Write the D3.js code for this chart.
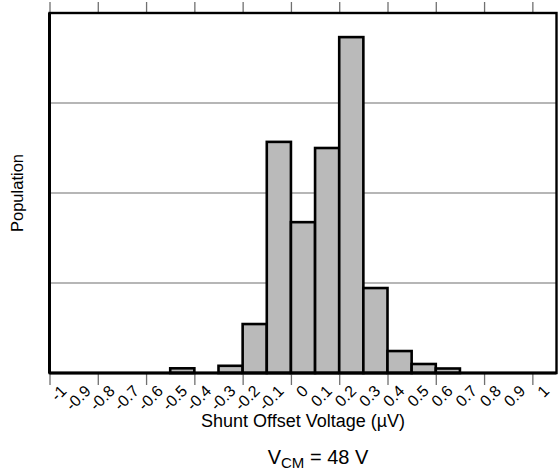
<!DOCTYPE html>
<html>
<head>
<meta charset="utf-8">
<script src="https://cdn.jsdelivr.net/npm/d3@7"></script>
<style>
  html, body { margin: 0; padding: 0; background: #fff; }
  svg { display: block; font-family: "Liberation Sans", Arial, sans-serif; }
</style>
</head>
<body>
<svg id="chart" width="558" height="470"></svg>
<script>
// Bin starts (µV), bin width 0.1
const binStarts = [-1, -0.9, -0.8, -0.7, -0.6, -0.5, -0.4, -0.3, -0.2, -0.1, 0, 0.1, 0.2, 0.3, 0.4, 0.5, 0.6, 0.7, 0.8, 0.9, 1];
const tickLabels = ["-1", "-0.9", "-0.8", "-0.7", "-0.6", "-0.5", "-0.4", "-0.3", "-0.2", "-0.1", "0", "0.1", "0.2", "0.3", "0.4", "0.5", "0.6", "0.7", "0.8", "0.9", "1"];
// Population (relative units, gridlines every 25)
const population = [0, 0, 0, 0, 0, 1.3, 0, 2.0, 13.6, 64.2, 41.9, 62.5, 93.3, 23.6, 6.1, 2.5, 1.25, 0, 0, 0, 0];
const majorTicks = [-1, -0.8, -0.6, -0.4, -0.2, 0, 0.2, 0.4, 0.6, 0.8, 1];
const gridValues = [25, 50, 75];
const binWidth = 0.1;

(function () {
const svg = d3.select("#chart");
const pLeft = 49.5, pRight = 556.5, pTop = 13, pBottom = 373;

const x = d3.scaleLinear().domain([-1, 1.1]).range([pLeft, pRight]);
const y = d3.scaleLinear().domain([0, 100]).range([pBottom, pTop]);

// gridlines
svg.append("g").selectAll("line").data(gridValues).join("line")
  .attr("x1", pLeft).attr("x2", pRight)
  .attr("y1", d => y(d)).attr("y2", d => y(d))
  .attr("stroke", "#6e6e6e").attr("stroke-width", 1.2);

// bars
const bins = binStarts.map((b, i) => ({ b, v: population[i] })).filter(d => d.v > 0);
svg.append("g").selectAll("rect").data(bins).join("rect")
  .attr("x", d => x(d.b))
  .attr("width", d => x(d.b + binWidth) - x(d.b))
  .attr("y", d => y(d.v))
  .attr("height", d => y(0) - y(d.v))
  .attr("fill", "#bababa")
  .attr("stroke", "#000")
  .attr("stroke-width", 2.6);

// ticks bottom
const bAxis = d3.axisBottom(x).tickValues(majorTicks).tickSize(12).tickFormat("");
const gb = svg.append("g").attr("transform", `translate(0,${pBottom})`).call(bAxis);
gb.select(".domain").remove();
gb.selectAll(".tick line").attr("stroke", "#707070").attr("stroke-width", 1.3);

// ticks top
const tAxis = d3.axisTop(x).tickValues(majorTicks).tickSize(11).tickFormat("");
const gt = svg.append("g").attr("transform", `translate(0,${pTop})`).call(tAxis);
gt.select(".domain").remove();
gt.selectAll(".tick line").attr("stroke", "#707070").attr("stroke-width", 1.3);

// frame
svg.append("rect")
  .attr("x", pLeft).attr("y", pTop)
  .attr("width", pRight - pLeft).attr("height", pBottom - pTop)
  .attr("fill", "none").attr("stroke", "#000").attr("stroke-width", 2.4);
svg.append("line").attr("x1", pLeft).attr("x2", pLeft).attr("y1", pTop).attr("y2", pBottom)
  .attr("stroke", "#000").attr("stroke-width", 3);
svg.append("line").attr("x1", pLeft).attr("x2", pRight).attr("y1", pBottom).attr("y2", pBottom)
  .attr("stroke", "#000").attr("stroke-width", 3);

// tick labels (at bin centres, rotated)
svg.append("g").selectAll("text").data(binStarts).join("text")
  .attr("transform", (d) => `translate(${x(d + binWidth / 2) + 2},388) rotate(-45)`)
  .attr("text-anchor", "end")
  .attr("dy", "0.35em")
  .attr("font-size", 16)
  .attr("fill", "#000")
  .text((d, i) => tickLabels[i]);

// axis titles
svg.append("text")
  .attr("x", (pLeft + pRight) / 2).attr("y", 427)
  .attr("text-anchor", "middle").attr("font-size", 18)
  .text("Shunt Offset Voltage (µV)");

svg.append("text")
  .attr("transform", `translate(23,${(pTop + pBottom) / 2}) rotate(-90)`)
  .attr("text-anchor", "middle").attr("font-size", 16.5)
  .text("Population");

const cap = svg.append("text")
  .attr("x", 318).attr("y", 464)
  .attr("text-anchor", "middle").attr("font-size", 20);
cap.append("tspan").text("V");
cap.append("tspan").attr("font-size", 15).attr("dy", 4).text("CM");
cap.append("tspan").attr("dy", -4).text(" = 48 V");
})();
</script>
</body>
</html>
